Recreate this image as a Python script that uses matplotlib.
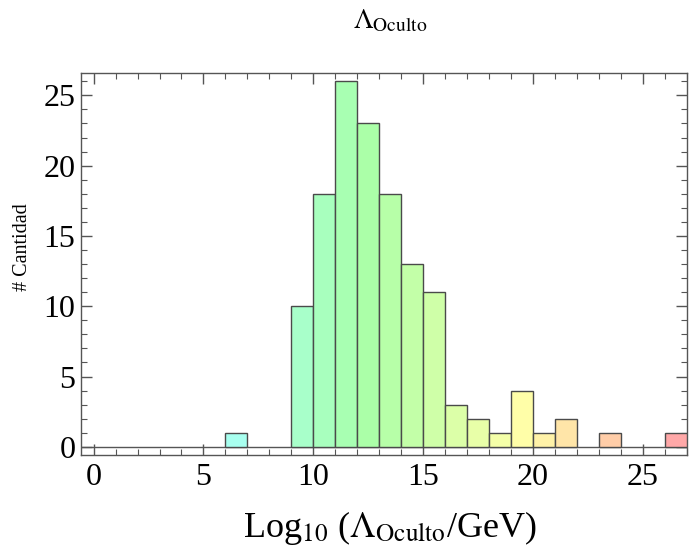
import colorsys
import matplotlib
matplotlib.use("Agg")
import matplotlib.pyplot as plt
from matplotlib.ticker import MultipleLocator

# histogram of log10(Lambda_hidden / GeV), unit-width bins
bin_left = [6, 9, 10, 11, 12, 13, 14, 15, 16, 17, 18, 19, 20, 21, 23, 26]
counts = [1, 10, 18, 26, 23, 18, 13, 11, 3, 2, 1, 4, 1, 2, 1, 1]
x_ticks = [0, 5, 10, 15, 20, 25]
y_ticks = [0, 5, 10, 15, 20, 25]

plt.rcParams['font.family'] = ['Liberation Serif', 'DejaVu Serif']
plt.rcParams['mathtext.fontset'] = 'stix'


def bar_colour(x):
    # hue runs from cyan at the low end down to red at the high end
    h = (169.0 - 8.45 * (x - 6.5)) / 360.0
    return colorsys.hsv_to_rgb(max(h, 0.0), 0.34, 1.0)


fig = plt.figure(figsize=(6.91, 5.52), dpi=100)
ax = fig.add_axes([0.117, 0.176, 0.877, 0.692])

colours = [bar_colour(b + 0.5) for b in bin_left]
ax.bar(bin_left, counts, width=1.0, align='edge', color=colours,
       edgecolor='#4a4a4a', linewidth=1.0, zorder=3)
ax.axhline(0, color='#555555', linewidth=1.0, zorder=2)

ax.set_xlim(-0.58, 27)
ax.set_ylim(-0.57, 26.6)
ax.set_xticks(x_ticks)
ax.set_yticks(y_ticks)
ax.xaxis.set_minor_locator(MultipleLocator(1))
ax.yaxis.set_minor_locator(MultipleLocator(1))
ax.tick_params(which='both', direction='in', top=True, right=True,
               color='#555555', labelsize=23)
ax.tick_params(axis='x', pad=6)
ax.tick_params(axis='y', pad=4)
ax.tick_params(which='major', length=8, width=1.0)
ax.tick_params(which='minor', length=4, width=0.8)
for s in ax.spines.values():
    s.set_color('#555555')
    s.set_linewidth(1.0)

fig.text(0.564, 0.962, r'$\Lambda_{\mathrm{Oculto}}$', ha='center', va='center',
         fontsize=20)
fig.text(0.564, 0.027, r'Log$_{10}$ ($\Lambda_{\mathrm{Oculto}}$/GeV)',
         ha='center', va='baseline', fontsize=26)
fig.text(0.032, 0.553, '# Cantidad', rotation=90, ha='center', va='center',
         fontsize=14.5)

fig.savefig('out.png', dpi=100)
